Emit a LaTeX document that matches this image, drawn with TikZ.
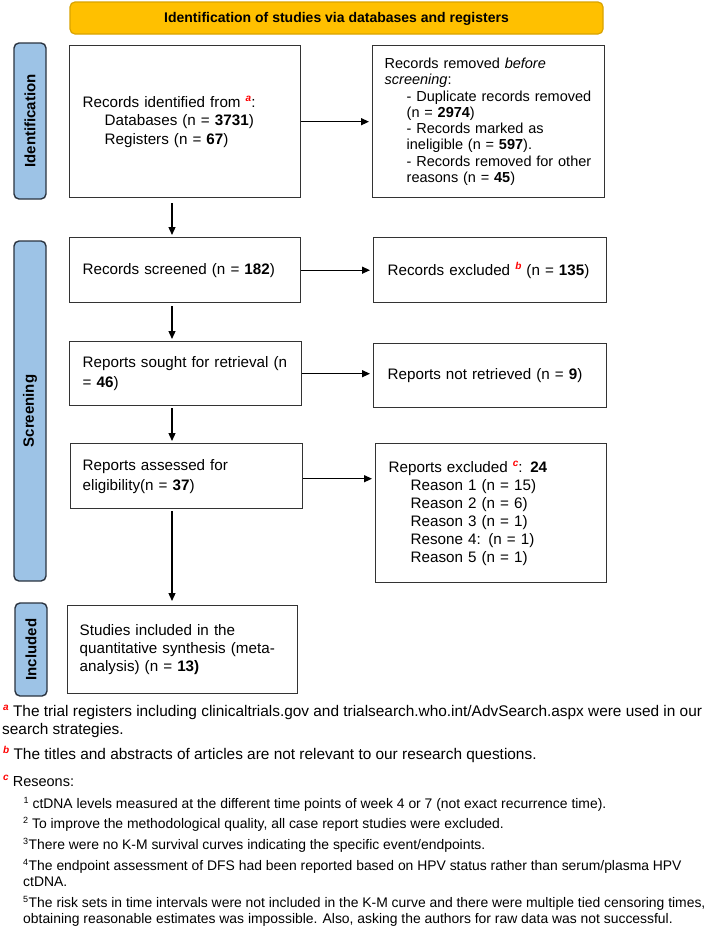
\documentclass[tikz,border=0pt]{standalone}
\usepackage{fontspec}
\setmainfont{Liberation Sans}
\usetikzlibrary{arrows.meta}
\definecolor{hdrfill}{HTML}{FFC000}
\definecolor{hdrline}{HTML}{D9A300}
\definecolor{barfill}{HTML}{9DC3E6}
\definecolor{barline}{HTML}{2B3440}
\definecolor{boxline}{HTML}{333333}
\definecolor{supred}{HTML}{FF0000}
\newcommand{\redsup}[1]{\raisebox{5.5pt}{\fontsize{10}{10}\selectfont\textcolor{supred}{\bfseries\itshape #1}}}
\newcommand{\numsup}[1]{\raisebox{5pt}{\fontsize{9}{9}\selectfont #1}}
\newcommand{\ind}{\hspace*{22pt}}
\tikzset{
  box/.style={draw=boxline, line width=1.4pt, fill=white, rectangle, anchor=north west,
    align=left, inner ysep=0pt, font=\fontsize{15.2}{18.5}\selectfont},
  sidebar/.style={draw=barline, line width=1.4pt, fill=barfill, rounded corners=5pt},
  sidelabel/.style={rotate=90, font=\fontsize{15}{15}\selectfont\bfseries, text=black},
  arr/.style={-{Triangle[length=8pt,width=7pt]}, line width=1.3pt, draw=black},
  foot/.style={anchor=base west, inner sep=0pt, font=\fontsize{15.4}{18}\selectfont},
  reason/.style={anchor=base west, inner sep=0pt, font=\fontsize{13.9}{16}\selectfont},
}
\begin{document}
\begin{tikzpicture}[x=1pt, y=-1pt]
\useasboundingbox (0,0) rectangle (709,927);
\fill[white] (0,0) rectangle (709,927);

% header
\draw[draw=hdrline, line width=1.2pt, fill=hdrfill, rounded corners=5pt] (70,2) rectangle (603,34);
\node[font=\fontsize{14}{14}\selectfont\bfseries] (hdr) at (336.5,18.5) {Identification of studies via databases and registers};

% side bars
\draw[sidebar] (14,43) rectangle (46,199);
\node[sidelabel] (lid) at (30,121) {Identification};
\draw[sidebar] (14,241) rectangle (46,581);
\node[sidelabel] (lsc) at (30,411) {Screening};
\draw[sidebar] (15,603) rectangle (47,696);
\node[sidelabel] (lin) at (31,649.5) {Included};

% boxes
\node[box, inner xsep=13pt, text width=205pt, minimum height=152pt] (b1) at (69,45)
  {Records identified from \redsup{a}:\\
   \ind Databases (n = \textbf{3731})\\
   \ind Registers (n = \textbf{67})};
\node[box, inner xsep=12pt, text width=208pt, minimum height=152pt, font=\fontsize{14.5}{16.3}\selectfont] (b2) at (372,45)
  {Records removed \textit{before}\\
   \textit{screening}:\\
   \ind - Duplicate records removed\\
   \ind (n = \textbf{2974})\\
   \ind - Records marked as\\
   \ind ineligible (n = \textbf{597}).\\
   \ind - Records removed for other\\
   \ind reasons (n = \textbf{45})};
\node[box, inner xsep=13pt, text width=205pt, minimum height=65pt] (b3) at (69,237)
  {Records screened (n = \textbf{182})};
\node[box, inner xsep=14pt, text width=205pt, minimum height=65pt] (b4) at (373,237)
  {Records excluded \redsup{b} (n = \textbf{135})};
\node[box, inner xsep=13pt, text width=206pt, minimum height=64pt, font=\fontsize{15.2}{20}\selectfont] (b5) at (69,341)
  {Reports sought for retrieval (n\\ = \textbf{46})};
\node[box, inner xsep=14pt, text width=205pt, minimum height=64pt] (b6) at (373,343)
  {Reports not retrieved (n = \textbf{9})};
\node[box, inner xsep=12pt, text width=208pt, minimum height=65pt, font=\fontsize{15.2}{20}\selectfont] (b7) at (70,443)
  {Reports assessed for\\ eligibility(n = \textbf{37})};
\node[box, inner xsep=13pt, text width=205pt, minimum height=139pt, font=\fontsize{15.2}{18}\selectfont] (b8) at (375,443)
  {Reports excluded \redsup{c}: \textbf{24}\\
   \ind Reason 1 (n = 15)\\
   \ind Reason 2 (n = 6)\\
   \ind Reason 3 (n = 1)\\
   \ind Resone 4: (n = 1)\\
   \ind Reason 5 (n = 1)};
\node[box, inner xsep=12pt, text width=206pt, minimum height=88pt, font=\fontsize{15.2}{18}\selectfont] (b9) at (67,605)
  {Studies included in the\\
   quantitative synthesis (meta-\\
   analysis) (n = \textbf{13)}};

% connectors
\coordinate (ax) at (172,0);
\coordinate (a7) at ([yshift=-2.5pt]b7.east);
\draw[arr, shorten >=3pt] (b1.east) -- (b2.west |- b1.east);
\draw[arr, shorten >=3pt] (b3.east) -- (b4.west |- b3.east);
\draw[arr, shorten >=3pt] (b5.east) -- (b6.west |- b5.east);
\draw[arr, shorten >=3pt] (a7) -- (b8.west |- a7);
\draw[arr, shorten <=5pt, shorten >=2pt] (b1.south -| ax) -- (b3.north -| ax);
\draw[arr, shorten <=3pt, shorten >=2pt] (b3.south -| ax) -- (b5.north -| ax);
\draw[arr, shorten <=2pt, shorten >=2pt] (b5.south -| ax) -- (b7.north -| ax);
\draw[arr, shorten <=2pt, shorten >=4pt] (b7.south -| ax) -- (b9.north -| ax);

% footnotes
\node[foot] (fa1) at (3,716) {\redsup{a} The trial registers including clinicaltrials.gov and trialsearch.who.int/AdvSearch.aspx were used in our};
\node[foot] (fa2) at (2,734) {search strategies.};
\node[foot] (fb) at (3,759) {\redsup{b} The titles and abstracts of articles are not relevant to our research questions.};
\node[foot, font=\fontsize{14.5}{18}\selectfont] (fc) at (3,786) {\redsup{c} Reseons:};
\node[reason] (r1) at (23.5,808) {\numsup{1} ctDNA levels measured at the different time points of week 4 or 7 (not exact recurrence time).};
\node[reason] (r2) at (23,828) {\numsup{2} To improve the methodological quality, all case report studies were excluded.};
\node[reason] (r3) at (23,849) {\numsup{3}\hspace{0.5pt}There were no K-M survival curves indicating the specific event/endpoints.};
\node[reason] (r4) at (23,870) {\numsup{4}\hspace{0.5pt}The endpoint assessment of DFS had been reported based on HPV status rather than serum/plasma HPV};
\node[reason] (r4b) at (23,886) {ctDNA.};
\node[reason] (r5) at (23,907) {\numsup{5}\hspace{0.5pt}The risk sets in time intervals were not included in the K-M curve and there were multiple tied censoring times,};
\node[reason] (r5b) at (23,923) {obtaining reasonable estimates was impossible. Also, asking the authors for raw data was not successful.};
\end{tikzpicture}
\end{document}
